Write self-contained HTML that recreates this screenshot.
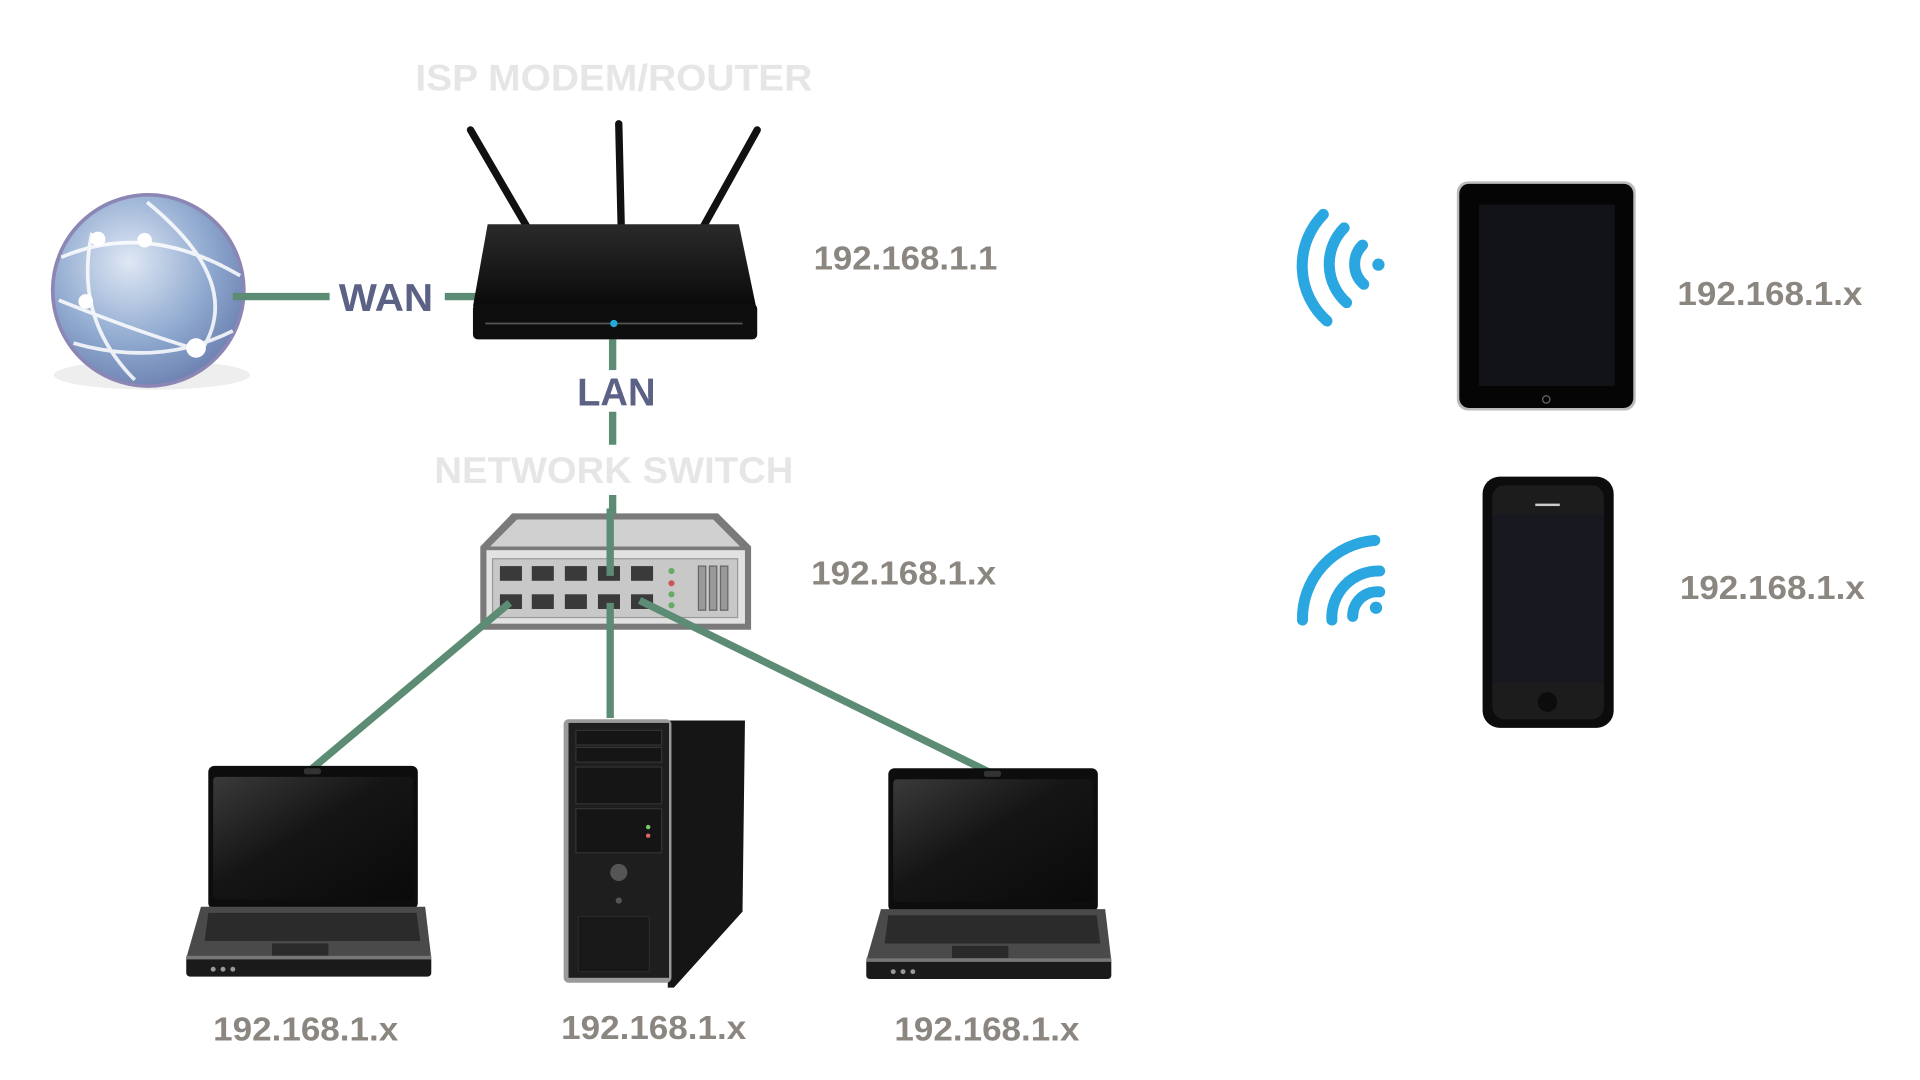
<!DOCTYPE html>
<html><head><meta charset="utf-8"><style>
html,body{margin:0;padding:0;background:#fff;width:1920px;height:1080px;overflow:hidden}
svg{display:block}
text{font-family:"Liberation Sans Narrow","Liberation Sans",sans-serif;font-weight:bold}
</style></head><body>
<svg width="1920" height="1080" viewBox="0 0 1567 881.4" xmlns="http://www.w3.org/2000/svg">
<defs>
<radialGradient id="glb" cx="0.4" cy="0.35" r="0.7">
<stop offset="0" stop-color="#dfe8f5"/><stop offset="0.6" stop-color="#8fa9cf"/><stop offset="1" stop-color="#6b7fb0"/></radialGradient>
<linearGradient id="scr" x1="0" y1="0" x2="1" y2="1"><stop offset="0" stop-color="#3a3a3a"/><stop offset="0.45" stop-color="#151515"/><stop offset="1" stop-color="#0a0a0a"/></linearGradient>
<linearGradient id="rtr" x1="0" y1="0" x2="0" y2="1"><stop offset="0" stop-color="#2a2a2a"/><stop offset="1" stop-color="#0a0a0a"/></linearGradient>
<g id="laptop">
<rect x="18" y="0" width="171" height="117" rx="5" fill="#0d0d0d"/>
<rect x="22" y="9" width="163" height="100" rx="3" fill="url(#scr)"/>
<rect x="96" y="2" width="14" height="5" rx="2" fill="#333"/>
<polygon points="12,115 195,115 200,157 0,157" fill="#4a4a4a"/>
<polygon points="18,120 188,120 191,143 15,143" fill="#2b2b2b"/>
<rect x="70" y="145" width="46" height="10" fill="#2a2a2a"/>
<rect x="0" y="155" width="200" height="17" rx="3" fill="#1a1a1a"/>
<rect x="0" y="155" width="200" height="3" fill="#777"/>
<circle cx="22" cy="166" r="2" fill="#999"/><circle cx="30" cy="166" r="2" fill="#999"/><circle cx="38" cy="166" r="2" fill="#999"/>
</g>
</defs>

<text x="501" y="74" text-anchor="middle" font-size="30" fill="#e6e6e6" textLength="324" lengthAdjust="spacingAndGlyphs">ISP MODEM/ROUTER</text>
<text x="501" y="394" text-anchor="middle" font-size="30" fill="#e6e6e6" textLength="293" lengthAdjust="spacingAndGlyphs">NETWORK SWITCH</text>

<!-- globe -->
<ellipse cx="124" cy="306" rx="80" ry="12" fill="#eee"/>
<circle cx="121" cy="237" r="78" fill="url(#glb)" stroke="#8b86b4" stroke-width="3"/>
<g fill="none" stroke="#fff" stroke-width="3" opacity="0.85">
<path d="M50,210 Q120,180 196,225"/><path d="M60,280 Q130,300 190,270"/>
<path d="M75,190 Q60,260 110,310"/><path d="M120,165 Q200,230 165,285"/>
<path d="M48,245 Q110,270 160,285"/>
</g>
<circle cx="80" cy="195" r="6" fill="#fff"/><circle cx="118" cy="196" r="6" fill="#fff"/><circle cx="70" cy="246" r="6" fill="#fff"/><circle cx="160" cy="284" r="8" fill="#fff"/>

<g stroke="#5d8c74" stroke-width="6" fill="none">
<line x1="190" y1="242" x2="269" y2="242"/><line x1="363" y1="242" x2="389" y2="242"/>
<line x1="500" y1="277" x2="500" y2="302"/><line x1="500" y1="336" x2="500" y2="363"/>
<line x1="500" y1="404" x2="500" y2="440"/>
</g>
<text x="315" y="254" text-anchor="middle" font-size="32" fill="#5c6186" textLength="77" lengthAdjust="spacingAndGlyphs">WAN</text>
<text x="503" y="331" text-anchor="middle" font-size="32" fill="#5c6186" textLength="64" lengthAdjust="spacingAndGlyphs">LAN</text>

<!-- router -->
<g stroke="#111" stroke-linecap="round">
<line x1="384" y1="106" x2="430" y2="185" stroke-width="6"/>
<line x1="505" y1="101" x2="507" y2="185" stroke-width="6"/>
<line x1="618" y1="106" x2="574" y2="185" stroke-width="6"/>
</g>
<polygon points="398,183 603,183 617,250 386,250" fill="url(#rtr)"/>
<rect x="386" y="248" width="232" height="29" rx="4" fill="#0e0e0e"/>
<line x1="396" y1="264" x2="606" y2="264" stroke="#555" stroke-width="1.5"/>
<circle cx="501" cy="264" r="3" fill="#2ad" />

<text x="664" y="220" font-size="27" fill="#8c8680" textLength="150" lengthAdjust="spacingAndGlyphs">192.168.1.1</text>
<text x="662" y="477" font-size="27" fill="#8c8680" textLength="151" lengthAdjust="spacingAndGlyphs">192.168.1.x</text>

<!-- switch -->
<polygon points="418,419 586,419 613,446 613,514 392,514 392,446" fill="#7a7a7a"/>
<polygon points="422,424 582,424 604,446 400,446" fill="#d0d0d0"/>
<rect x="397" y="449" width="211" height="60" fill="#e2e2e2"/>
<rect x="402" y="456" width="200" height="48" fill="#c8c8c8" stroke="#999"/>
<g fill="#3a3a3a">
<rect x="408" y="462" width="18" height="12"/><rect x="434" y="462" width="18" height="12"/><rect x="461" y="462" width="18" height="12"/><rect x="488" y="462" width="18" height="12"/><rect x="515" y="462" width="18" height="12"/>
<rect x="408" y="485" width="18" height="12"/><rect x="434" y="485" width="18" height="12"/><rect x="461" y="485" width="18" height="12"/><rect x="488" y="485" width="18" height="12"/><rect x="515" y="485" width="18" height="12"/>
</g>
<circle cx="548" cy="466" r="2.5" fill="#6a6"/><circle cx="548" cy="476" r="2.5" fill="#c55"/><circle cx="548" cy="485" r="2.5" fill="#6a6"/><circle cx="548" cy="494" r="2.5" fill="#6a6"/>
<g fill="#999" stroke="#666"><rect x="570" y="462" width="6" height="36"/><rect x="579" y="462" width="6" height="36"/><rect x="588" y="462" width="6" height="36"/></g>
<g stroke="#5d8c74" stroke-width="6" fill="none">
<line x1="498" y1="415" x2="498" y2="470"/>
<line x1="416" y1="492" x2="255" y2="627"/>
<line x1="498" y1="492" x2="498" y2="586"/>
<line x1="522" y1="490" x2="807" y2="630"/>
</g>

<use href="#laptop" x="152" y="625"/>
<use href="#laptop" x="707" y="627"/>

<!-- tower -->
<polygon points="545,588 608,588 606,744 550,806 545,806" fill="#151515"/>
<rect x="460" y="587" width="88" height="215" rx="4" fill="#9a9a9a"/>
<rect x="464" y="590" width="82" height="208" fill="#1e1e1e"/>
<g fill="#151515" stroke="#333"><rect x="470" y="596" width="70" height="12"/><rect x="470" y="610" width="70" height="12"/><rect x="470" y="626" width="70" height="30"/><rect x="470" y="660" width="70" height="36"/></g>
<circle cx="505" cy="712" r="7" fill="#555"/><circle cx="505" cy="735" r="2.5" fill="#555"/>
<rect x="472" y="748" width="58" height="45" fill="#181818" stroke="#2a2a2a"/>
<circle cx="529" cy="675" r="1.8" fill="#7c6"/><circle cx="529" cy="682" r="1.8" fill="#d66"/>

<text x="174" y="849" font-size="27" fill="#8c8680" textLength="151" lengthAdjust="spacingAndGlyphs">192.168.1.x</text>
<text x="458" y="848" font-size="27" fill="#8c8680" textLength="151" lengthAdjust="spacingAndGlyphs">192.168.1.x</text>
<text x="730" y="849" font-size="27" fill="#8c8680" textLength="151" lengthAdjust="spacingAndGlyphs">192.168.1.x</text>

<g fill="none" stroke="#2aa7e0" stroke-width="9" stroke-linecap="round">
<path d="M1080,175 A60,60 0 0 0 1083,262"/>
<path d="M1097,186 A42,42 0 0 0 1099,247"/>
<path d="M1112,200 A22,22 0 0 0 1113,232"/>
</g>
<circle cx="1125" cy="216" r="5" fill="#2aa7e0"/>
<g fill="none" stroke="#2aa7e0" stroke-width="9" stroke-linecap="round">
<path d="M1063,506 A64,64 0 0 1 1122,441"/>
<path d="M1087,506 A38,38 0 0 1 1126,466"/>
<path d="M1104,503 A20,20 0 0 1 1126,483"/>
</g>
<circle cx="1123" cy="496" r="5" fill="#2aa7e0"/>

<rect x="1189" y="148" width="146" height="187" rx="9" fill="#bbb"/>
<rect x="1191" y="150" width="142" height="183" rx="8" fill="#050505"/>
<rect x="1207" y="167" width="111" height="148" fill="#121316"/>
<circle cx="1262" cy="326" r="3" fill="none" stroke="#666"/>
<rect x="1210" y="389" width="107" height="205" rx="14" fill="#0c0c0c"/>
<rect x="1218" y="396" width="91" height="191" rx="10" fill="#1c1c1c"/>
<rect x="1218" y="420" width="91" height="137" fill="#171820"/>
<rect x="1253" y="411" width="20" height="2" fill="#ccc"/>
<circle cx="1263" cy="573" r="8" fill="#0c0c0c"/>

<text x="1369" y="249" font-size="27" fill="#8c8680" textLength="151" lengthAdjust="spacingAndGlyphs">192.168.1.x</text>
<text x="1371" y="489" font-size="27" fill="#8c8680" textLength="151" lengthAdjust="spacingAndGlyphs">192.168.1.x</text>
</svg>
</body></html>
